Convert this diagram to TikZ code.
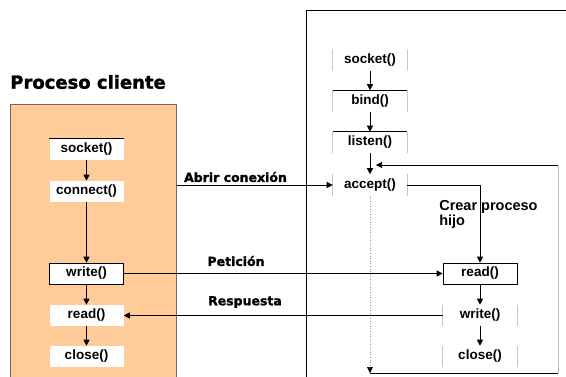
\documentclass[tikz,border=0pt]{standalone}
\usepackage{fontspec}
\setmainfont{Liberation Sans}
\newfontfamily\heavyfont{DejaVu Sans Bold}[FakeBold=1.5]
\usetikzlibrary{arrows.meta}
\definecolor{peach}{RGB}{255,204,153}
\definecolor{panelrim}{RGB}{115,100,90}
\tikzset{
  fn/.style={fill=white,minimum width=74pt,minimum height=21pt,inner sep=0pt,
    font=\bfseries\fontsize{13.5}{15}\selectfont},
  side/.style={draw=gray!45,line width=0.8pt},
  flow/.style={-{Triangle[length=6pt,width=6pt,color=black]},line width=0.6pt},
  lbl/.style={font=\heavyfont\fontsize{12.5}{15}\selectfont,inner sep=0pt}
}
\begin{document}
\begin{tikzpicture}[x=1pt,y=-1pt,line width=0.6pt]
\useasboundingbox (0,0) rectangle (566,376);
% client side
\node[font=\heavyfont\fontsize{18}{20}\selectfont,inner sep=0pt,anchor=west] (ctitle) at (10,82) {Proceso cliente};
\node[fill=peach,draw=panelrim,minimum width=166pt,minimum height=276pt,inner sep=0pt] (cpanel) at (93.5,242) {};
\node[fn] (csocket) at (86.5,149) {socket()};
\node[fn] (cconnect) at (86.5,191.5) {connect()};
\node[fn,draw] (cwrite) at (86.5,273.5) {write()};
\node[fn] (cread) at (86.5,315.5) {read()};
\node[fn] (cclose) at (86.5,356.5) {close()};
\draw[flow] (csocket) -- (cconnect);
\draw[flow] (cconnect) -- (cwrite);
\draw[flow] (cwrite) -- (cread);
\draw[flow] (cread) -- (cclose);
% server side
\draw (306,380) -- (306,10) -- (570,10);
\node[fn] (ssocket) at (370,60) {socket()};
\node[fn] (sbind) at (370,101) {bind()};
\node[fn] (slisten) at (370,142.5) {listen()};
\node[fn] (saccept) at (370,185) {accept()};
\node[fn,draw] (sread) at (480,273.5) {read()};
\node[fn] (swrite) at (480,315.5) {write()};
\node[fn] (sclose) at (480,356.5) {close()};
\foreach \n in {ssocket,sbind,slisten,saccept,swrite,sclose}
  \draw[side] (\n.north west) -- (\n.south west) (\n.north east) -- (\n.south east);
\foreach \n in {csocket,sbind,slisten}
  \draw (\n.north west) -- (\n.north east);
\draw[flow] (ssocket) -- (sbind);
\draw[flow] (sbind) -- (slisten);
\draw[flow] (slisten) -- (saccept);
\draw[flow] (sread) -- (swrite);
\draw[flow] (swrite) -- (sclose);
% child process
\draw[flow] (saccept.east) -| (sread.north);
\node[font=\bfseries\fontsize{14.5}{15}\selectfont,align=left,inner sep=0pt,anchor=north west] (spawn) at (439,200) {Crear proceso\\hijo};
% accept loop
\coordinate (lend) at (370,373);
\coordinate (lright) at (558,373);
\coordinate (ltop) at (558,165);
\coordinate (lin) at (376,165);
\draw[flow,dotted,gray!80] (saccept) -- (lend);
\draw (lend) -- (lright);
\draw[gray!55] (lright) -- (ltop);
\draw[flow] (ltop) -- (lin);
% messages
\draw[flow] (cpanel.east |- saccept) -- (saccept);
\node[lbl] (lopen) at (235.5,177) {Abrir conexión};
\draw[flow,line width=0.9pt] (cwrite) -- (sread);
\node[lbl] (lreq) at (236,261) {Petición};
\draw[flow,line width=0.9pt] (swrite) -- (cread);
\node[lbl] (lresp) at (245,302) {Respuesta};
\end{tikzpicture}
\end{document}
